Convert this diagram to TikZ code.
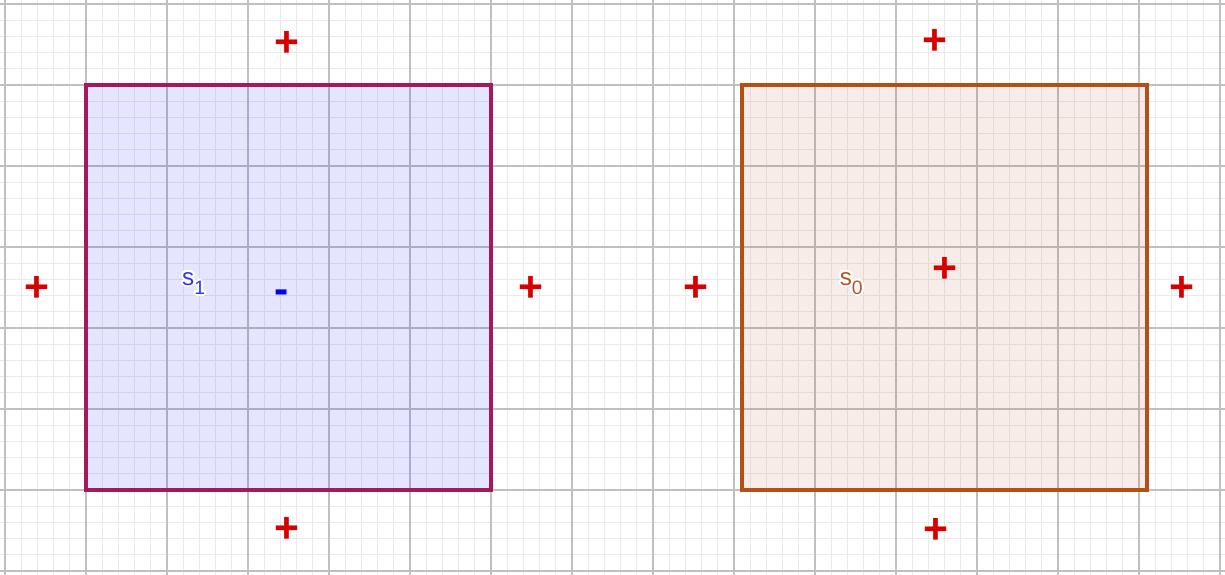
\documentclass[tikz,border=0pt]{standalone}
\usepackage{fontspec}
\setmainfont{Liberation Sans}
\usepackage{contour}
\contourlength{0.7pt}
\definecolor{minorgrid}{RGB}{234,234,234}
\definecolor{majorgrid}{RGB}{192,192,192}
\definecolor{sqoneborder}{RGB}{163,25,91}
\definecolor{sqzeroborder}{RGB}{181,78,24}
\definecolor{sqonefill}{RGB}{0,0,255}
\definecolor{sqzerofill}{RGB}{181,78,24}
\definecolor{plusred}{RGB}{214,0,0}
\definecolor{minusblue}{RGB}{0,0,255}
\definecolor{lblblue}{RGB}{51,51,255}
\definecolor{lblbrown}{RGB}{181,86,40}
\tikzset{
  minorline/.style={draw=minorgrid, line width=0.35pt},
  majorline/.style={draw=majorgrid, line width=0.55pt},
  sqone/.style={draw=sqoneborder, line width=1.2pt, fill=sqonefill, fill opacity=0.1},
  sqzero/.style={draw=sqzeroborder, line width=1.2pt, fill=sqzerofill, fill opacity=0.1},
  plussign/.style={text=plusred, inner sep=0pt, font=\fontsize{15}{15}\selectfont\bfseries},
  minussign/.style={text=minusblue, inner sep=0pt, font=\fontsize{15}{15}\selectfont\bfseries},
  lbl/.style={inner sep=0pt, anchor=base west, font=\fontsize{8.5}{8.5}\selectfont}
}
\newcommand{\sublbl}[2]{\contour{white}{#1\raisebox{-3.2pt}{\fontsize{6.8}{6.8}\selectfont #2}}}
\begin{document}
\begin{tikzpicture}
\useasboundingbox (-0.062,-0.049) rectangle (15.062,7.049);
\clip (-0.062,-0.049) rectangle (15.062,7.049);
\fill[white] (-0.062,-0.049) rectangle (15.062,7.049);
% grid
\draw[minorline] (-0.2,-0.2) grid[step=0.2] (15.4,7.4);
\draw[majorline] (-1,-1) grid[step=1] (16,8);
% squares
\path[sqone] (1,1) rectangle (6,6);
\path[sqzero] (9.1,1) rectangle (14.1,6);
% labels
\node[lbl, text=lblblue] (sone) at (2.18,3.53) {\sublbl{s}{1}};
\node[lbl, text=lblbrown] (szero) at (10.30,3.53) {\sublbl{s}{0}};
% signs around left square
\node[plussign] (ltop) at (3.48,6.51) {+};
\node[plussign] (lleft) at (0.395,3.485) {+};
\node[plussign] (lright) at (6.494,3.475) {+};
\node[plussign] (lbottom) at (3.481,0.50) {+};
\node[minussign] (lcenter) at (3.414,3.385) {-};
% signs around right square
\node[plussign] (rtop) at (11.48,6.525) {+};
\node[plussign] (rleft) at (8.53,3.485) {+};
\node[plussign] (rright) at (14.53,3.485) {+};
\node[plussign] (rbottom) at (11.49,0.49) {+};
\node[plussign] (rcenter) at (11.605,3.71) {+};
\end{tikzpicture}
\end{document}
